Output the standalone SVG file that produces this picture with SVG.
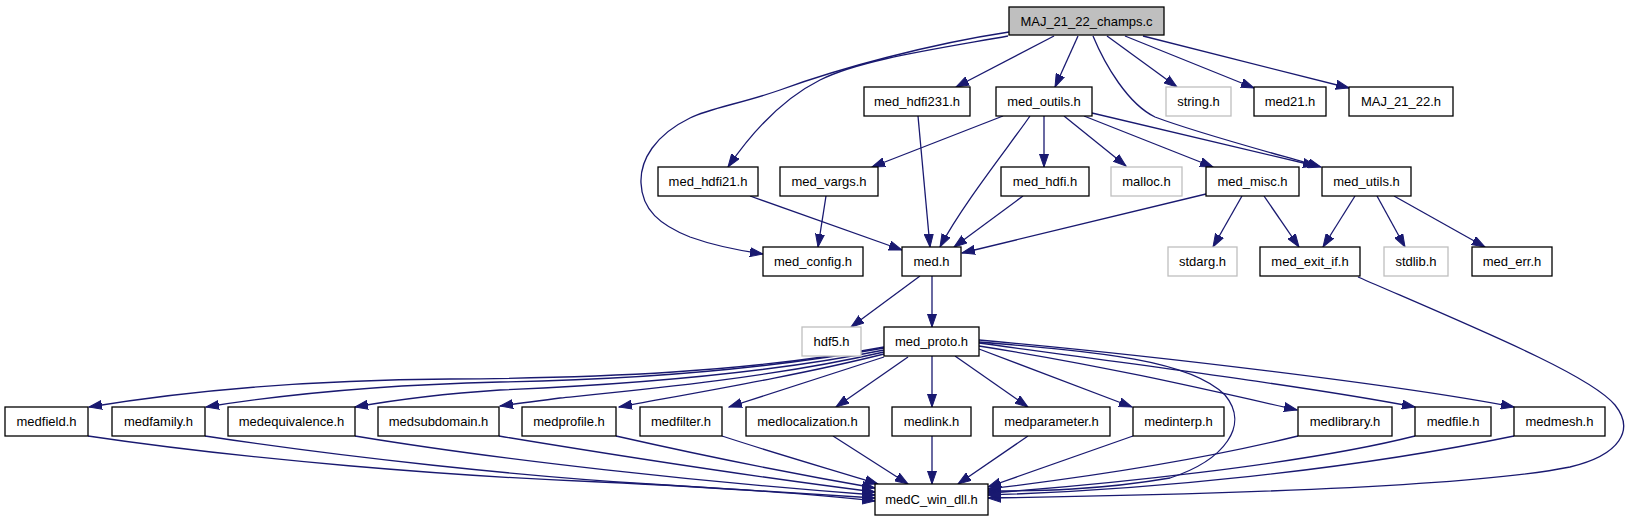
<svg xmlns="http://www.w3.org/2000/svg" width="1629" height="523" viewBox="0 0 1629 523">
<style>
.n rect{fill:#fff;stroke:#000;stroke-width:1.3}
.n.g rect{stroke:#bfbfbf}
.n.r rect{fill:#bfbfbf}
.n text{font-family:"Liberation Sans",Arial,sans-serif;font-size:13px;text-anchor:middle;fill:#000}
.e path{fill:none;stroke:#191970;stroke-width:1.3;marker-end:url(#ah)}
</style>
<defs>
<marker id="ah" markerWidth="14" markerHeight="10" refX="13" refY="5" orient="auto" markerUnits="userSpaceOnUse">
<path d="M0,0.5 L13,5 L0,9.5 z" fill="#191970" stroke="#191970" stroke-width="1"/>
</marker>
</defs>
<rect width="1629" height="523" fill="#fff"/>
<g id="edges" class="e">
<path d="M1009,32 C930,44 840,68 780,90 C740,104 710,108 690,118 C655,135 640,160 641,183 C642,210 660,225 690,237 C715,246 735,250 763,254"/>
<path d="M1008,36 C930,50 860,60 820,80 C780,100 750,135 728,167"/>
<path d="M1054,36 L956,87"/>
<path d="M1078,36 L1055,87"/>
<path d="M1093,36 C1105,65 1128,104 1155,117 C1200,134 1280,155 1321,167"/>
<path d="M1107,36 L1177,87"/>
<path d="M1125,36 L1254,88"/>
<path d="M1143,36 L1349,88"/>
<path d="M918,116 L930,247"/>
<path d="M1003,116 L872,167"/>
<path d="M1030,116 C1010,145 962,205 940,247"/>
<path d="M1044,116 L1044,167"/>
<path d="M1064,116 L1126,166"/>
<path d="M1084,116 L1213,167"/>
<path d="M1092,113 L1316,166"/>
<path d="M750,196 L902,250"/>
<path d="M826,196 L818,247"/>
<path d="M1023,196 L954,247"/>
<path d="M1206,194 L962,253"/>
<path d="M1242,196 L1213,247"/>
<path d="M1264,196 L1299,247"/>
<path d="M1355,196 L1323,247"/>
<path d="M1377,196 L1405,247"/>
<path d="M1394,196 L1485,247"/>
<path d="M1358,277 C1480,330 1590,375 1615,405 C1635,430 1620,455 1570,467 C1480,485 1250,494 988,498"/>
<path d="M920,276 L851,327"/>
<path d="M932,276 L932,327"/>
<path d="M932,356 L932,407"/>
<path d="M955,356 L1028,407"/>
<path d="M979,349 L1132,407"/>
<path d="M979,346 C1100,365 1200,388 1297,410"/>
<path d="M979,343 C1100,360 1300,385 1415,407"/>
<path d="M979,340 C1150,355 1400,385 1514,407"/>
<path d="M979,342 C1100,352 1190,360 1225,395 C1250,425 1225,460 1170,478 C1100,490 1040,491 988,491"/>
<path d="M908,357 L836,407"/>
<path d="M884,357 L729,407"/>
<path d="M884,354 C800,375 700,392 619,407"/>
<path d="M884,352 C770,378 640,390 560,398 C540,401 520,403 500,406"/>
<path d="M884,350 C760,375 620,385 500,390 C440,394 400,399 355,407"/>
<path d="M884,348 C750,372 620,380 500,382 C380,385 280,395 206,407"/>
<path d="M884,347 C750,372 600,378 450,379 C300,380 180,392 89,407"/>
<path d="M88,436 C250,460 450,476 600,482 C750,489 830,496 875,501"/>
<path d="M205,436 C350,458 520,476 650,484 C760,491 830,495 875,498"/>
<path d="M355,436 C500,460 700,482 875,495"/>
<path d="M499,436 C620,456 780,480 875,492"/>
<path d="M616,436 C700,455 800,475 875,488"/>
<path d="M722,436 C780,455 840,472 878,484"/>
<path d="M833,436 L908,484"/>
<path d="M932,436 L932,484"/>
<path d="M1028,436 L958,484"/>
<path d="M1133,436 L988,487"/>
<path d="M1298,436 C1200,460 1080,478 988,489"/>
<path d="M1415,436 C1300,465 1100,485 988,493"/>
<path d="M1514,436 C1350,470 1150,490 988,495"/>
</g>
<g id="n_root" class="n r"><rect x="1009" y="7" width="155" height="28"/><text x="1086.5" y="25.5">MAJ_21_22_champs.c</text></g>
<g id="n_med_hdfi231" class="n"><rect x="864" y="87" width="106" height="29"/><text x="917" y="106">med_hdfi231.h</text></g>
<g id="n_med_outils" class="n"><rect x="996" y="87" width="96" height="29"/><text x="1044" y="106">med_outils.h</text></g>
<g id="n_string" class="n g"><rect x="1166" y="87" width="65" height="29"/><text x="1198.5" y="106">string.h</text></g>
<g id="n_med21" class="n"><rect x="1254" y="87" width="72" height="29"/><text x="1290" y="106">med21.h</text></g>
<g id="n_maj2122" class="n"><rect x="1349" y="87" width="104" height="29"/><text x="1401" y="106">MAJ_21_22.h</text></g>
<g id="n_med_hdfi21" class="n"><rect x="658" y="167" width="100" height="29"/><text x="708" y="186">med_hdfi21.h</text></g>
<g id="n_med_vargs" class="n"><rect x="780" y="167" width="98" height="29"/><text x="829" y="186">med_vargs.h</text></g>
<g id="n_med_hdfi" class="n"><rect x="1001" y="167" width="88" height="29"/><text x="1045" y="186">med_hdfi.h</text></g>
<g id="n_malloc" class="n g"><rect x="1111" y="167" width="71" height="29"/><text x="1146.5" y="186">malloc.h</text></g>
<g id="n_med_misc" class="n"><rect x="1206" y="167" width="93" height="29"/><text x="1252.5" y="186">med_misc.h</text></g>
<g id="n_med_utils" class="n"><rect x="1322" y="167" width="89" height="29"/><text x="1366.5" y="186">med_utils.h</text></g>
<g id="n_med_config" class="n"><rect x="763" y="247" width="100" height="29"/><text x="813" y="266">med_config.h</text></g>
<g id="n_med" class="n"><rect x="902" y="247" width="59" height="29"/><text x="931.5" y="266">med.h</text></g>
<g id="n_stdarg" class="n g"><rect x="1168" y="247" width="69" height="29"/><text x="1202.5" y="266">stdarg.h</text></g>
<g id="n_med_exit_if" class="n"><rect x="1260" y="247" width="100" height="29"/><text x="1310" y="266">med_exit_if.h</text></g>
<g id="n_stdlib" class="n g"><rect x="1384" y="247" width="64" height="29"/><text x="1416" y="266">stdlib.h</text></g>
<g id="n_med_err" class="n"><rect x="1472" y="247" width="80" height="29"/><text x="1512" y="266">med_err.h</text></g>
<g id="n_hdf5" class="n g"><rect x="802" y="327" width="59" height="29"/><text x="831.5" y="346">hdf5.h</text></g>
<g id="n_med_proto" class="n"><rect x="884" y="327" width="95" height="29"/><text x="931.5" y="346">med_proto.h</text></g>
<g id="n_medfield" class="n"><rect x="5" y="407" width="83" height="29"/><text x="46.5" y="426">medfield.h</text></g>
<g id="n_medfamily" class="n"><rect x="112" y="407" width="93" height="29"/><text x="158.5" y="426">medfamily.h</text></g>
<g id="n_medequivalence" class="n"><rect x="228" y="407" width="127" height="29"/><text x="291.5" y="426">medequivalence.h</text></g>
<g id="n_medsubdomain" class="n"><rect x="378" y="407" width="121" height="29"/><text x="438.5" y="426">medsubdomain.h</text></g>
<g id="n_medprofile" class="n"><rect x="522" y="407" width="94" height="29"/><text x="569" y="426">medprofile.h</text></g>
<g id="n_medfilter" class="n"><rect x="640" y="407" width="82" height="29"/><text x="681" y="426">medfilter.h</text></g>
<g id="n_medlocalization" class="n"><rect x="746" y="407" width="123" height="29"/><text x="807.5" y="426">medlocalization.h</text></g>
<g id="n_medlink" class="n"><rect x="892" y="407" width="79" height="29"/><text x="931.5" y="426">medlink.h</text></g>
<g id="n_medparameter" class="n"><rect x="993" y="407" width="117" height="29"/><text x="1051.5" y="426">medparameter.h</text></g>
<g id="n_medinterp" class="n"><rect x="1133" y="407" width="91" height="29"/><text x="1178.5" y="426">medinterp.h</text></g>
<g id="n_medlibrary" class="n"><rect x="1298" y="407" width="94" height="29"/><text x="1345" y="426">medlibrary.h</text></g>
<g id="n_medfile" class="n"><rect x="1415" y="407" width="76" height="29"/><text x="1453" y="426">medfile.h</text></g>
<g id="n_medmesh" class="n"><rect x="1514" y="407" width="91" height="29"/><text x="1559.5" y="426">medmesh.h</text></g>
<g id="n_medC_win_dll" class="n"><rect x="875" y="484" width="113" height="31"/><text x="931.5" y="504">medC_win_dll.h</text></g>
</svg>
